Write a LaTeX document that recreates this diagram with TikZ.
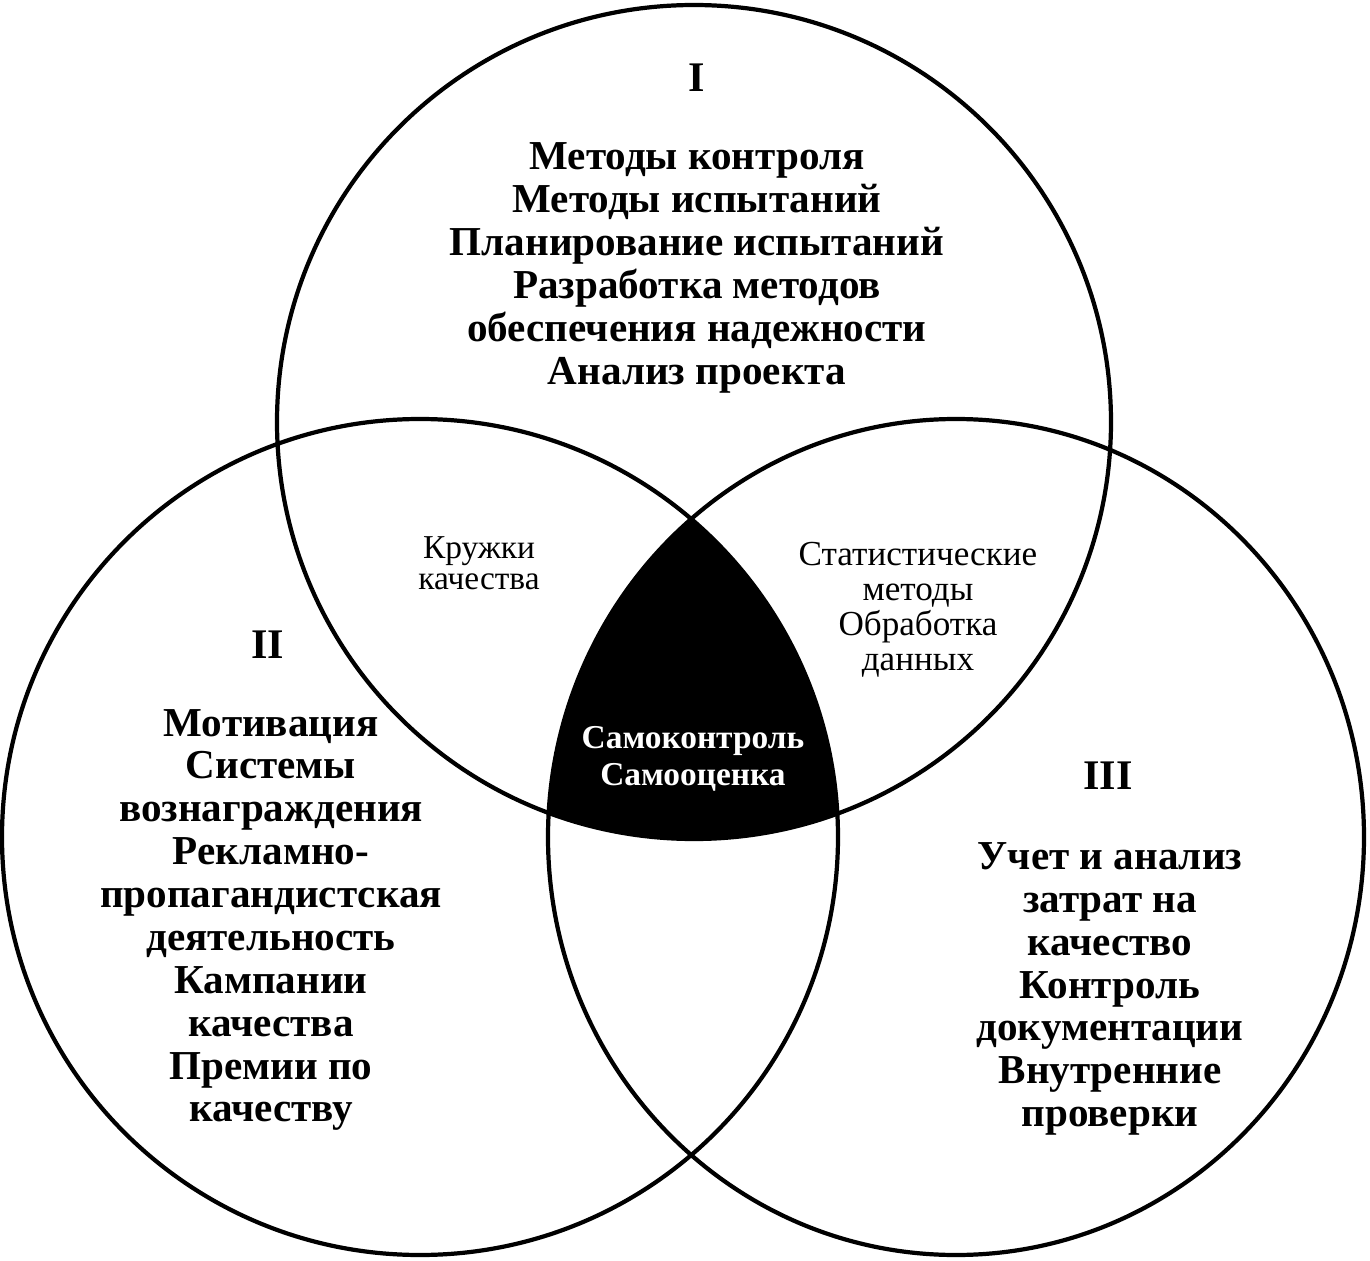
\documentclass[tikz,border=0pt]{standalone}
\usepackage{fontspec}
\setmainfont{Liberation Serif}
\begin{document}
\begin{tikzpicture}[
    krug/.style={line width=1.2pt},
    spisok/.style={font=\fontsize{11.7}{12.2}\selectfont\bfseries, align=center},
    nomer/.style={font=\fontsize{12}{12}\selectfont\bfseries},
    obshchee/.style={font=\fontsize{10}{10}\selectfont, align=center}
]
    \useasboundingbox (0,0) rectangle (13.7,12.6);

    % Центры кругов
    \coordinate (cI) at (6.94,8.38);
    \coordinate (cII) at (4.20,4.23);
    \coordinate (cIII) at (9.56,4.23);

    % Общая часть всех трёх кругов
    \begin{scope}
        \clip (cI) circle (4.17);
        \clip (cII) circle (4.18);
        \fill (cIII) ellipse (4.08 and 4.18);
    \end{scope}

    % Круги
    \draw[krug] (cI) circle (4.17);
    \draw[krug] (cII) circle (4.18);
    \draw[krug] (cIII) ellipse (4.08 and 4.18);

    % Круг I
    \node[nomer] (nI) at (6.97,11.82) {I};
    \node[spisok] (tI) at (6.97,9.92) {Методы контроля\\Методы испытаний\\Планирование испытаний\\Разработка методов\\обеспечения надежности\\Анализ проекта};

    % Круг II
    \node[nomer] (nII) at (2.68,6.15) {II};
    \node[spisok] (tII) at (2.71,3.40) {Мотивация\\Системы\\вознаграждения\\Рекламно-\\пропагандистская\\деятельность\\Кампании\\качества\\Премии по\\качеству};

    % Круг III
    \node[nomer] (nIII) at (11.08,4.84) {III};
    \node[spisok] (tIII) at (11.10,2.71) {Учет и анализ\\затрат на\\качество\\Контроль\\документации\\Внутренние\\проверки};

    % Пересечения
    \node[obshchee, font=\fontsize{9.5}{8.8}\selectfont] (kruzhki) at (4.79,6.97) {Кружки\\качества};
    \node[obshchee] (stat) at (9.18,6.50) {Статистические\\методы\\Обработка\\данных};
    \node[obshchee, text=white, font=\fontsize{9.5}{10.5}\selectfont\bfseries] (samo) at (6.93,5.01) {Самоконтроль\\Самооценка};
\end{tikzpicture}
\end{document}
